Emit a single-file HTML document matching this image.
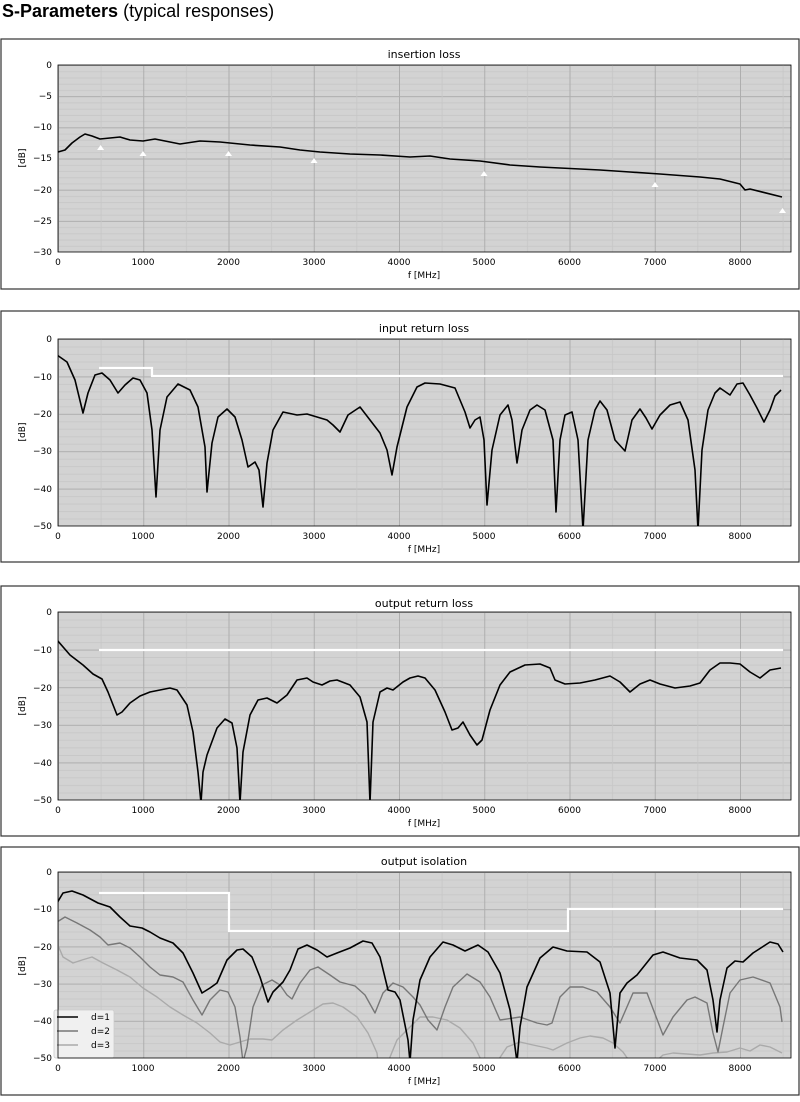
<!DOCTYPE html>
<html><head><meta charset="utf-8"><style>
body{margin:0;background:#fff;width:800px;height:1097px;overflow:hidden;font-family:"Liberation Sans",sans-serif}
svg text{font-family:"DejaVu Sans","Liberation Sans",sans-serif;font-size:9px;fill:#000}
</style></head><body>
<svg width="800" height="1097" viewBox="0 0 800 1097" xmlns="http://www.w3.org/2000/svg">
<defs>
<pattern id="vx" patternUnits="userSpaceOnUse" x="58" y="0" width="85.25" height="10"><line x1="0.5" y1="0" x2="0.5" y2="10" stroke="#aeaeae" stroke-width="1"/><line x1="43.1" y1="0" x2="43.1" y2="10" stroke="#c6c6c6" stroke-width="0.8"/></pattern>
<pattern id="h1" patternUnits="userSpaceOnUse" x="0" y="65" width="10" height="31.17"><line x1="0" y1="0.5" x2="10" y2="0.5" stroke="#aeaeae"/><line x1="0" y1="6.73" x2="10" y2="6.73" stroke="#c6c6c6" stroke-width="0.8"/><line x1="0" y1="12.97" x2="10" y2="12.97" stroke="#c6c6c6" stroke-width="0.8"/><line x1="0" y1="19.2" x2="10" y2="19.2" stroke="#c6c6c6" stroke-width="0.8"/><line x1="0" y1="25.43" x2="10" y2="25.43" stroke="#c6c6c6" stroke-width="0.8"/></pattern>
<pattern id="h2" patternUnits="userSpaceOnUse" x="0" y="339" width="10" height="37.4"><line x1="0" y1="0.5" x2="10" y2="0.5" stroke="#aeaeae"/><line x1="0" y1="7.98" x2="10" y2="7.98" stroke="#c6c6c6" stroke-width="0.8"/><line x1="0" y1="15.46" x2="10" y2="15.46" stroke="#c6c6c6" stroke-width="0.8"/><line x1="0" y1="22.94" x2="10" y2="22.94" stroke="#c6c6c6" stroke-width="0.8"/><line x1="0" y1="30.42" x2="10" y2="30.42" stroke="#c6c6c6" stroke-width="0.8"/></pattern>
<pattern id="h3" patternUnits="userSpaceOnUse" x="0" y="612" width="10" height="37.6"><line x1="0" y1="0.5" x2="10" y2="0.5" stroke="#aeaeae"/><line x1="0" y1="8" x2="10" y2="8" stroke="#c6c6c6" stroke-width="0.8"/><line x1="0" y1="15.5" x2="10" y2="15.5" stroke="#c6c6c6" stroke-width="0.8"/><line x1="0" y1="23.1" x2="10" y2="23.1" stroke="#c6c6c6" stroke-width="0.8"/><line x1="0" y1="30.6" x2="10" y2="30.6" stroke="#c6c6c6" stroke-width="0.8"/></pattern>
<pattern id="h4" patternUnits="userSpaceOnUse" x="0" y="872" width="10" height="37.2"><line x1="0" y1="0.5" x2="10" y2="0.5" stroke="#aeaeae"/><line x1="0" y1="7.94" x2="10" y2="7.94" stroke="#c6c6c6" stroke-width="0.8"/><line x1="0" y1="15.38" x2="10" y2="15.38" stroke="#c6c6c6" stroke-width="0.8"/><line x1="0" y1="22.82" x2="10" y2="22.82" stroke="#c6c6c6" stroke-width="0.8"/><line x1="0" y1="30.26" x2="10" y2="30.26" stroke="#c6c6c6" stroke-width="0.8"/></pattern>
</defs>

<text x="2" y="17" style="font-family:'Liberation Sans',sans-serif;font-size:18px"><tspan font-weight="bold">S-Parameters</tspan> (typical responses)</text>

<!-- Panel 1 -->
<rect x="1" y="39" width="798" height="250" fill="#fff" stroke="#333" stroke-width="1.2"/>
<text x="424" y="58" text-anchor="middle" style="font-size:11px">insertion loss</text>
<rect x="58" y="65" width="733" height="187" fill="#d3d3d3"/>
<rect x="58" y="65" width="733" height="187" fill="url(#h1)"/>
<rect x="58" y="65" width="733" height="187" fill="url(#vx)"/>
<polyline fill="none" stroke="#000" stroke-width="1.6" stroke-linejoin="round" points="58,152 65,150 72,143 80,137 85,134 92,136 100,139 110,138 120,137 130,140 143,141 155,139 170,142 180,144 200,141 220,142 250,145 280,147 300,150 320,152 350,154 380,155 410,157 430,156 450,159 480,161 510,165 540,167 560,168 600,170 630,172 660,174 700,177 720,179 740,184 745,190 750,189 782,197"/>
<g fill="#fff"><path d="M100.6,145 l3.5,5 h-7z"/><path d="M143,151 l3.5,5 h-7z"/><path d="M228.5,151 l3.5,5 h-7z"/><path d="M314,158 l3.5,5 h-7z"/><path d="M484,171 l3.5,5 h-7z"/><path d="M655,182 l3.5,5 h-7z"/><path d="M782.5,208 l3.5,5 h-7z"/></g>
<rect x="58" y="65" width="733" height="187" fill="none" stroke="#000" stroke-width="0.8"/>
<g text-anchor="end"><text x="52" y="68">0</text><text x="52" y="99">−5</text><text x="52" y="130">−10</text><text x="52" y="161">−15</text><text x="52" y="193">−20</text><text x="52" y="224">−25</text><text x="52" y="255">−30</text></g>
<g text-anchor="middle"><text x="58" y="265">0</text><text x="143" y="265">1000</text><text x="228.5" y="265">2000</text><text x="314" y="265">3000</text><text x="399" y="265">4000</text><text x="484" y="265">5000</text><text x="569.5" y="265">6000</text><text x="655" y="265">7000</text><text x="740" y="265">8000</text><text x="424" y="278">f [MHz]</text></g>
<text transform="translate(25,158) rotate(-90)" text-anchor="middle">[dB]</text>

<!-- Panel 2 -->
<rect x="1" y="311" width="798" height="251" fill="#fff" stroke="#333" stroke-width="1.2"/>
<text x="424" y="332" text-anchor="middle" style="font-size:11px">input return loss</text>
<rect x="58" y="339" width="733" height="187" fill="#d3d3d3"/>
<rect x="58" y="339" width="733" height="187" fill="url(#h2)"/>
<rect x="58" y="339" width="733" height="187" fill="url(#vx)"/>
<polyline fill="none" stroke="#fff" stroke-width="2.2" points="99,368 152,368 152,376 783,376"/>
<svg x="58" y="339" width="733" height="187" viewBox="58 339 733 187" overflow="hidden">
<polyline fill="none" stroke="#000" stroke-width="1.6" stroke-linejoin="round" points="57,355 67,362 75,380 83,413 88,393 95,375 102,373 110,380 118,393 125,385 133,378 140,380 147,393 152,430 156,497 160,430 167,397 178,384 190,390 198,407 205,447 207,492 212,443 218,417 227,409 235,417 242,440 248,467 255,462 259,470 263,507 267,463 273,430 283,412 297,415 307,414 317,417 327,420 333,425 340,432 348,415 360,407 370,420 380,433 387,450 392,475 397,447 407,407 417,387 425,383 440,384 455,388 465,412 470,428 475,420 480,417 484,440 487,505 492,450 500,415 508,405 512,420 517,463 522,430 530,410 537,405 545,410 553,440 556,512 560,440 565,415 572,412 578,440 583,530 588,440 595,410 600,401 607,410 615,440 625,451 632,420 640,409 646,418 652,429 660,415 670,405 680,402 688,420 695,470 698,530 702,450 708,410 715,393 720,388 730,395 737,384 743,383 750,395 757,408 764,422 770,410 775,396 781,390"/>
</svg>
<rect x="58" y="339" width="733" height="187" fill="none" stroke="#000" stroke-width="0.8"/>
<g text-anchor="end"><text x="52" y="342">0</text><text x="52" y="380">−10</text><text x="52" y="417">−20</text><text x="52" y="454">−30</text><text x="52" y="492">−40</text><text x="52" y="529">−50</text></g>
<g text-anchor="middle"><text x="58" y="539">0</text><text x="143" y="539">1000</text><text x="228.5" y="539">2000</text><text x="314" y="539">3000</text><text x="399" y="539">4000</text><text x="484" y="539">5000</text><text x="569.5" y="539">6000</text><text x="655" y="539">7000</text><text x="740" y="539">8000</text><text x="424" y="552">f [MHz]</text></g>
<text transform="translate(25,432) rotate(-90)" text-anchor="middle">[dB]</text>

<!-- Panel 3 -->
<rect x="1" y="586" width="798" height="250" fill="#fff" stroke="#333" stroke-width="1.2"/>
<text x="424" y="607" text-anchor="middle" style="font-size:11px">output return loss</text>
<rect x="58" y="612" width="733" height="188" fill="#d3d3d3"/>
<rect x="58" y="612" width="733" height="188" fill="url(#h3)"/>
<rect x="58" y="612" width="733" height="188" fill="url(#vx)"/>
<polyline fill="none" stroke="#fff" stroke-width="2.2" points="99,650 783,650"/>
<svg x="58" y="612" width="733" height="188" viewBox="58 612 733 188" overflow="hidden">
<polyline fill="none" stroke="#000" stroke-width="1.6" stroke-linejoin="round" points="57,640 70,655 83,665 93,674 102,679 108,692 117,715 122,712 130,703 140,696 150,692 160,690 170,688 177,690 187,705 193,732 198,772 201,803 203,772 207,755 217,728 225,719 232,723 237,748 240,803 243,752 250,715 258,700 267,698 277,703 287,695 297,680 307,678 313,682 322,685 330,681 337,680 350,685 360,697 367,722 370,803 373,722 380,692 387,688 393,690 403,682 410,678 418,676 425,678 435,690 445,712 452,730 458,728 463,722 470,735 477,745 482,740 490,710 500,685 510,672 525,665 540,664 550,668 555,680 565,684 580,683 595,680 610,676 620,682 630,692 640,684 650,680 660,684 675,688 690,686 700,683 710,670 720,663 730,663 740,664 750,672 760,678 770,670 781,668"/>
</svg>
<rect x="58" y="612" width="733" height="188" fill="none" stroke="#000" stroke-width="0.8"/>
<g text-anchor="end"><text x="52" y="615">0</text><text x="52" y="653">−10</text><text x="52" y="691">−20</text><text x="52" y="728">−30</text><text x="52" y="766">−40</text><text x="52" y="803">−50</text></g>
<g text-anchor="middle"><text x="58" y="813">0</text><text x="143" y="813">1000</text><text x="228.5" y="813">2000</text><text x="314" y="813">3000</text><text x="399" y="813">4000</text><text x="484" y="813">5000</text><text x="569.5" y="813">6000</text><text x="655" y="813">7000</text><text x="740" y="813">8000</text><text x="424" y="826">f [MHz]</text></g>
<text transform="translate(25,706) rotate(-90)" text-anchor="middle">[dB]</text>

<!-- Panel 4 -->
<rect x="1" y="847" width="798" height="248" fill="#fff" stroke="#333" stroke-width="1.2"/>
<text x="424" y="865" text-anchor="middle" style="font-size:11px">output isolation</text>
<rect x="58" y="872" width="733" height="186" fill="#d3d3d3"/>
<rect x="58" y="872" width="733" height="186" fill="url(#h4)"/>
<rect x="58" y="872" width="733" height="186" fill="url(#vx)"/>
<svg x="58" y="872" width="733" height="186" viewBox="58 872 733 186" overflow="hidden">
<g fill="none" stroke-linejoin="round">
<polyline stroke="#aaa" stroke-width="1.4" points="57,943 63,957 73,963 82,960 92,957 103,963 117,970 130,977 143,988 157,997 170,1007 183,1015 197,1023 210,1033 220,1042 230,1045 240,1042 250,1039 263,1039 272,1040 283,1030 297,1020 310,1012 323,1004 333,1003 343,1007 357,1017 368,1033 377,1053 378,1062"/>
<polyline stroke="#aaa" stroke-width="1.4" points="388,1062 397,1040 410,1027 420,1017 433,1017 447,1020 460,1028 473,1043 482,1062"/>
<polyline stroke="#aaa" stroke-width="1.4" points="497,1062 507,1047 520,1042 533,1045 547,1048 553,1050 567,1043 580,1038 590,1036 603,1038 613,1043 623,1052 630,1062"/>
<polyline stroke="#aaa" stroke-width="1.4" points="655,1062 663,1055 673,1053 687,1054 700,1055 713,1053 727,1052 740,1048 750,1051 760,1045 770,1047 782,1053"/>
<polyline stroke="#777" stroke-width="1.4" points="57,922 65,917 77,923 90,930 100,937 108,945 120,943 130,948 140,957 150,967 160,975 173,977 183,982 193,1000 202,1015 210,1000 220,990 228,992 235,1007 240,1037 243,1062 247,1047 253,1007 262,985 272,980 280,985 287,995 292,999 300,983 310,970 318,967 330,975 340,982 355,986 365,995 375,1013 383,993 393,983 403,987 413,997 420,1005 428,1020 437,1030 445,1007 453,987 467,974 480,982 490,997 500,1020 520,1017 537,1023 547,1025 552,1023 560,997 570,987 583,987 597,992 610,1007 620,1023 633,993 647,993 663,1035 673,1017 687,1000 695,997 707,1003 713,1033 718,1052 723,1027 730,993 740,980 753,977 770,983 780,1007 782,1022"/>
<polyline stroke="#000" stroke-width="1.6" points="57,903 63,893 72,891 83,895 98,903 110,907 120,917 130,926 142,928 150,932 160,938 173,943 183,953 193,973 202,993 210,988 217,983 227,960 237,950 243,949 252,957 260,977 268,1002 273,992 283,982 290,970 298,949 307,945 317,950 327,957 337,953 350,948 363,941 372,943 380,957 388,990 395,992 400,1000 408,1040 410,1062 413,1020 420,980 430,957 443,942 453,945 465,951 478,945 488,952 500,973 510,1010 515,1047 517,1062 520,1027 527,987 540,958 553,947 567,951 587,952 600,962 610,993 615,1048 620,993 627,983 637,975 653,955 663,952 680,958 697,960 707,970 713,1000 717,1032 720,1000 727,968 735,961 743,962 753,953 770,942 778,944 783,952"/>
</g>
</svg>
<polyline fill="none" stroke="#fff" stroke-width="2.2" points="99,893 229,893 229,931 568,931 568,909 783,909"/>
<rect x="54" y="1010" width="60" height="48" fill="#f0f0f0" stroke="#ccc" stroke-width="0.8" rx="2"/>
<line x1="57" y1="1017" x2="78" y2="1017" stroke="#000" stroke-width="1.6"/><text x="91" y="1020">d=1</text>
<line x1="57" y1="1031" x2="78" y2="1031" stroke="#777" stroke-width="1.4"/><text x="91" y="1034">d=2</text>
<line x1="57" y1="1045" x2="78" y2="1045" stroke="#aaa" stroke-width="1.4"/><text x="91" y="1048">d=3</text>
<rect x="58" y="872" width="733" height="186" fill="none" stroke="#000" stroke-width="0.8"/>
<g text-anchor="end"><text x="52" y="875">0</text><text x="52" y="912">−10</text><text x="52" y="950">−20</text><text x="52" y="987">−30</text><text x="52" y="1024">−40</text><text x="52" y="1061">−50</text></g>
<g text-anchor="middle"><text x="58" y="1071">0</text><text x="143" y="1071">1000</text><text x="228.5" y="1071">2000</text><text x="314" y="1071">3000</text><text x="399" y="1071">4000</text><text x="484" y="1071">5000</text><text x="569.5" y="1071">6000</text><text x="655" y="1071">7000</text><text x="740" y="1071">8000</text><text x="424" y="1084">f [MHz]</text></g>
<text transform="translate(25,966) rotate(-90)" text-anchor="middle">[dB]</text>
</svg>
</body></html>
